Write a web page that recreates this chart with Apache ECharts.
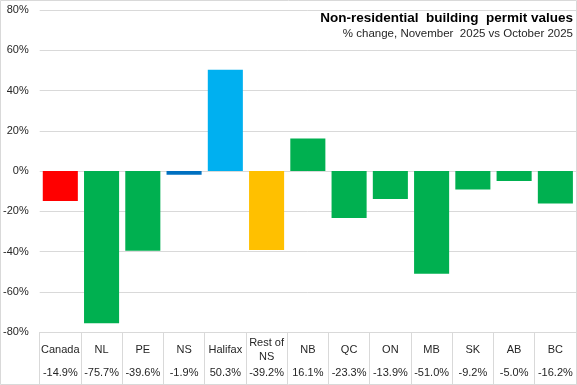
<!DOCTYPE html>
<html>
<head>
<meta charset="utf-8">
<script src="https://cdn.jsdelivr.net/npm/echarts@6/dist/echarts.min.js"></script>
<style>
html,body{margin:0;padding:0;background:#fff;}
#c{width:577px;height:385px;}
</style>
</head>
<body>
<div id="c"></div>
<script>
const categories = ['Canada','NL','PE','NS','Halifax','Rest of\nNS','NB','QC','ON','MB','SK','AB','BC'];
const values = [-14.9,-75.7,-39.6,-1.9,50.3,-39.2,16.1,-23.3,-13.9,-51.0,-9.2,-5.0,-16.2];
const yTicks = [-80,-60,-40,-20,0,20,40,60,80];
const titleText = 'Non-residential  building  permit values';
const subtitleText = '% change, November  2025 vs October 2025';

const colorFor = {
  'Canada': '#FF0000',
  'NS': '#0070C0',
  'Halifax': '#00B0F0',
  'Rest of\nNS': '#FFC000'
};
const defaultColor = '#00B050';
const font = 'Liberation Sans, Arial, sans-serif';

const chart = echarts.init(document.getElementById('c'), null, {renderer:'canvas'});
chart.setOption({
  animation: false,
  backgroundColor: '#fff',
  textStyle: {fontFamily: font},
  title: [{
    text: titleText,
    right: 4, top: 11, padding: 0,
    textStyle: {fontSize: 13.5, fontWeight: 'bold', color: '#000', fontFamily: font}
  },{
    text: subtitleText,
    right: 4, top: 28, padding: 0,
    textStyle: {fontSize: 11.5, fontWeight: 'normal', color: '#262626', fontFamily: font}
  }],
  grid: {left: 38, top: 10, width: 538, height: 322, containLabel: false},
  xAxis: [{
    type: 'category',
    data: categories,
    position: 'bottom',
    axisLine: {show: true, onZero: false, lineStyle: {color: '#d9d9d9', width: 1}},
    axisTick: {show: true, length: 54, interval: 0, lineStyle: {color: '#d9d9d9'}},
    axisLabel: {interval: 0, margin: 18, verticalAlign: 'middle', lineHeight: 14, fontSize: 11, color: '#262626'}
  },{
    type: 'category',
    data: categories,
    position: 'bottom',
    axisLine: {show: false, onZero: false},
    axisTick: {show: false},
    axisLabel: {interval: 0, margin: 41, verticalAlign: 'middle', fontSize: 11, color: '#262626',
      formatter: (v, i) => values[i].toFixed(1) + '%'}
  }],
  yAxis: {
    type: 'value',
    min: yTicks[0], max: yTicks[yTicks.length-1], interval: 20,
    axisLine: {show: false},
    axisTick: {show: false},
    axisLabel: {margin: 11, fontSize: 11, color: '#262626', formatter: v => v + '%'},
    splitLine: {lineStyle: {color: '#d9d9d9', width: 1}}
  },
  series: [{
    type: 'bar',
    xAxisIndex: 0,
    barCategoryGap: '15%',
    data: values.map((v, i) => ({value: v, itemStyle: {color: colorFor[categories[i]] || defaultColor}}))
  }],
  graphic: [{
    type: 'rect',
    shape: {x: 0.5, y: 0.5, width: 576, height: 384},
    style: {fill: null, stroke: '#d9d9d9', lineWidth: 1},
    silent: true, z: 100
  }]
});
</script>
</body>
</html>
